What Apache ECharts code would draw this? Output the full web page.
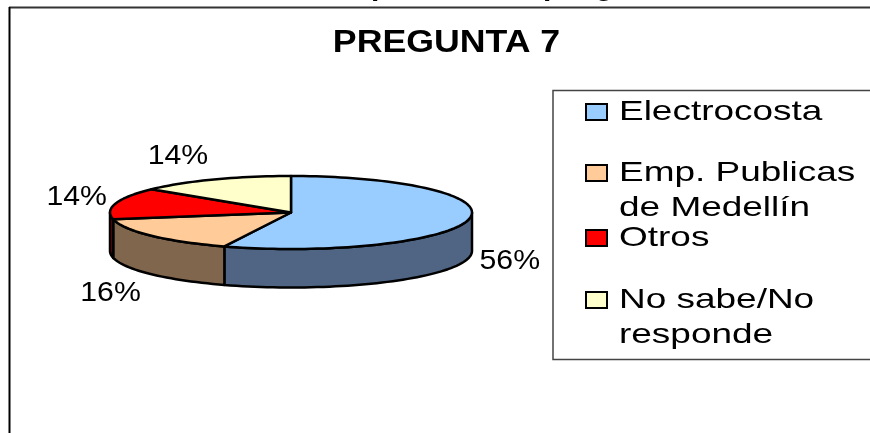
<!DOCTYPE html>
<html><head><meta charset="utf-8">
<style>html,body{margin:0;padding:0;background:#fff}#c{width:870px;height:433px}</style>
<script src="https://cdn.jsdelivr.net/npm/echarts@6/dist/echarts.min.js"></script>
</head><body><div id="c"></div>
<script>
const chartTitle = 'PREGUNTA 7';
const categories = ['Electrocosta', 'Emp. Publicas\nde Medellín', 'Otros', 'No sabe/No\nresponde'];
const values = [56, 16, 14, 14];
const topColors = ['#99CCFF', '#FFCC99', '#FF0000', '#FFFFCC'];
const sideColors = ['#4F6583', '#80664D', '#800000', '#80805F'];

const font = '"Liberation Sans", Arial, sans-serif';
const pie = {cx: 291, cy: 212.5, rx: 181, ry: 36.5, depth: 38.5};
const labelOffsets = [[41, 42], [-41, 58], [-39, -6], [-36, -22.5]];
const legendRows = [110, 171, 236, 298];
const clippedGlyphs = [['p', 371], ['p', 543], ['g', 595]];
const total = values.reduce((a, b) => a + b, 0);

function pt(deg, dy) {
  const r = deg * Math.PI / 180;
  return [pie.cx + pie.rx * Math.sin(r), pie.cy - pie.ry * Math.cos(r) + (dy || 0)];
}
function arc(a, b, dy) {
  const pts = [], n = Math.max(2, Math.ceil(Math.abs(b - a) / 2));
  for (let i = 0; i <= n; i++) pts.push(pt(a + (b - a) * i / n, dy));
  return pts;
}

const lineColor = '#000';
const graphics = [
  {type: 'line', shape: {x1: 9, y1: 7.5, x2: 870, y2: 7.5}, style: {stroke: '#333', lineWidth: 2}},
  {type: 'line', shape: {x1: 9.5, y1: 7, x2: 9.5, y2: 433}, style: {stroke: '#000', lineWidth: 2}},
  {type: 'rect', shape: {x: 553, y: 90.5, width: 330, height: 269}, style: {fill: '#fff', stroke: '#444', lineWidth: 1.5}},
  {type: 'text', x: 446.5, y: 43.5, scaleX: 1.115, silent: true,
    style: {text: chartTitle, font: `bold 32px ${font}`, fill: '#000', align: 'center', verticalAlign: 'middle'}}
];
clippedGlyphs.forEach(g => graphics.push({type: 'text', x: g[1], y: 2, scaleX: 1.15, silent: true,
  style: {text: g[0], font: `bold 26px ${font}`, fill: '#000', align: 'left', verticalAlign: 'bottom'}}));
categories.forEach((c, i) => {
  graphics.push({type: 'rect', z: 5, shape: {x: 586, y: legendRows[i] - 6, width: 21, height: 16},
    style: {fill: topColors[i], stroke: '#000', lineWidth: 2}});
  graphics.push({type: 'text', z: 5, x: 619, y: legendRows[i] - 15, scaleX: 1.32, silent: true,
    style: {text: c, font: `28px ${font}`, fill: '#000', align: 'left', verticalAlign: 'top', lineHeight: 35}});
});

const chart = echarts.init(document.getElementById('c'), null, {renderer: 'canvas'});
let cum = 0;
const slices = values.map((v, i) => {
  const s = cum / total * 360; cum += v;
  return {start: s, end: cum / total * 360, i};
});
chart.setOption({
  animation: false,
  backgroundColor: '#fff',
  graphic: graphics,
  series: [{
    type: 'custom',
    coordinateSystem: 'none',
    data: values.map((v, i) => [i, v]),
    renderItem(params, api) {
      const sl = slices[api.value(0)];
      const children = [];
      const a = Math.max(sl.start, 90), b = Math.min(sl.end, 270);
      if (b > a) {
        const front = arc(a, b, 0);
        const back = arc(b, a, pie.depth);
        children.push({type: 'polygon', shape: {points: front.concat(back)},
          style: {fill: sideColors[sl.i], stroke: lineColor, lineWidth: 2.5, lineJoin: 'round'}});
      }
      const top = [[pie.cx, pie.cy]].concat(arc(sl.start, sl.end, 0));
      children.push({type: 'polygon', z2: 3, shape: {points: top},
        style: {fill: topColors[sl.i], stroke: lineColor, lineWidth: 2.5, lineJoin: 'round'}});
      const mid = pt((sl.start + sl.end) / 2, 0);
      const off = labelOffsets[sl.i];
      children.push({type: 'text', z2: 4, x: mid[0] + off[0], y: mid[1] + off[1], scaleX: 1.12,
        style: {text: api.value(1) + '%', font: `27px ${font}`, fill: '#000', align: 'center', verticalAlign: 'middle'}});
      return {type: 'group', children};
    }
  }]
});
</script></body></html>
